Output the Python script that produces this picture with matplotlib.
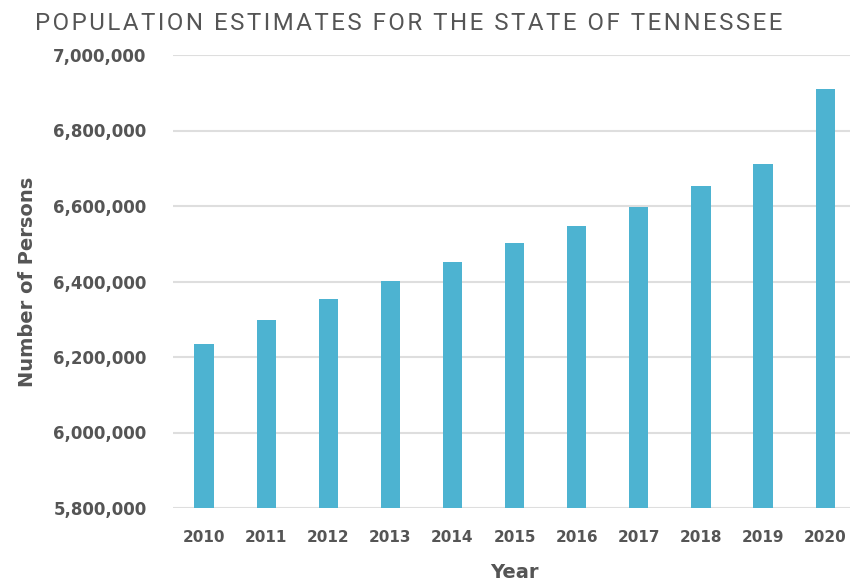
import matplotlib.pyplot as plt
from matplotlib.ticker import FuncFormatter

years = ["2010", "2011", "2012", "2013", "2014", "2015", "2016", "2017", "2018", "2019", "2020"]
population = [6234000, 6298000, 6354000, 6401000, 6452000, 6502000,
              6547000, 6597000, 6653000, 6711000, 6910000]
y_ticks = [5800000, 6000000, 6200000, 6400000, 6600000, 6800000, 7000000]
title = "POPULATION ESTIMATES FOR THE STATE OF TENNESSEE"

text_color = "#555555"
bar_color = "#4DB3D1"

fig = plt.figure(figsize=(8.5, 5.83), dpi=100)
ax = fig.add_axes([173 / 850, 1 - 508 / 583, 677 / 850, 453 / 583])

ax.bar(range(len(years)), population, width=0.31, color=bar_color, zorder=3)
ax.set_ylim(5800000, 7000000)
ax.set_xlim(-0.5, 10.4)
ax.set_yticks(y_ticks)
ax.yaxis.set_major_formatter(FuncFormatter(lambda v, p: f"{int(v):,}"))
ax.set_xticks(range(len(years)))
ax.set_xticklabels(years)

ax.grid(axis="y", color="#dedede", linewidth=1.5, zorder=0)
for s in ax.spines.values():
    s.set_visible(False)
ax.tick_params(axis="both", length=0, colors=text_color)
ax.tick_params(axis="y", pad=19, labelsize=12)
ax.tick_params(axis="x", pad=16, labelsize=11)
for lab in ax.get_xticklabels() + ax.get_yticklabels():
    lab.set_fontfamily("DejaVu Sans")
    lab.set_fontweight("bold")

ax.set_ylabel("Number of Persons", fontsize=14, fontweight="bold", color=text_color,
              fontfamily="DejaVu Sans")
ax.yaxis.set_label_coords(-(173 - 28) / 677, 0.5)
ax.yaxis.label.set_va("center")
fig.text(514 / 850, 1 - 573 / 583, "Year", fontsize=14, fontweight="bold", color=text_color,
         fontfamily="DejaVu Sans", ha="center", va="center")

# letter-spaced title
spaced = "\u200a".join(title)
fig.text(35 / 850, 1 - 24 / 583, spaced,
         fontsize=17.3, fontweight="normal", color=text_color,
         family=["Roboto", "DejaVu Sans"], ha="left", va="center")

fig.savefig("out.png", dpi=100)
